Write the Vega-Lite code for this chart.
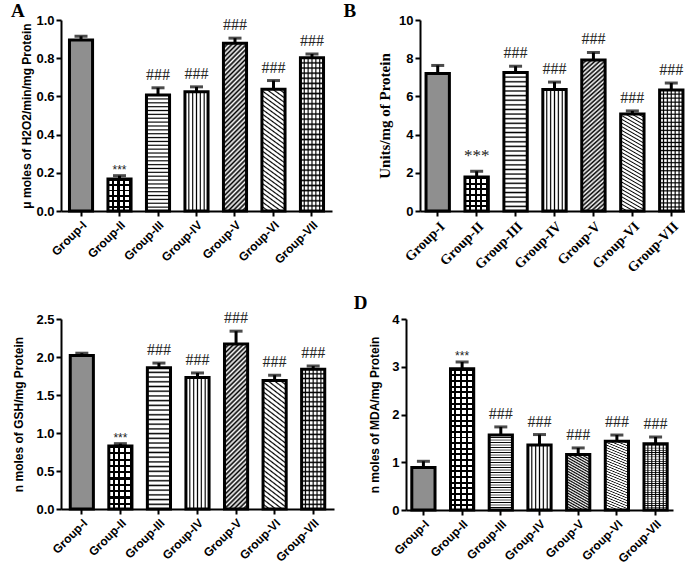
{
"$schema":"https://vega.github.io/schema/vega-lite/v6.json",
"background":"white",
"padding":{"left":0,"top":2,"right":0,"bottom":0},
"spacing":16,
"params":[
{"name":"hst","expr":"[{offset:0,color:'#000'},{offset:0.01,color:'#fff'},{offset:0.0233,color:'#fff'},{offset:0.0333,color:'#000'},{offset:0.0433,color:'#fff'},{offset:0.0567,color:'#fff'},{offset:0.0667,color:'#000'},{offset:0.0767,color:'#fff'},{offset:0.09,color:'#fff'},{offset:0.1,color:'#000'},{offset:0.11,color:'#fff'},{offset:0.1233,color:'#fff'},{offset:0.1333,color:'#000'},{offset:0.1433,color:'#fff'},{offset:0.1567,color:'#fff'},{offset:0.1667,color:'#000'},{offset:0.1767,color:'#fff'},{offset:0.19,color:'#fff'},{offset:0.2,color:'#000'},{offset:0.21,color:'#fff'},{offset:0.2233,color:'#fff'},{offset:0.2333,color:'#000'},{offset:0.2433,color:'#fff'},{offset:0.2567,color:'#fff'},{offset:0.2667,color:'#000'},{offset:0.2767,color:'#fff'},{offset:0.29,color:'#fff'},{offset:0.3,color:'#000'},{offset:0.31,color:'#fff'},{offset:0.3233,color:'#fff'},{offset:0.3333,color:'#000'},{offset:0.3433,color:'#fff'},{offset:0.3567,color:'#fff'},{offset:0.3667,color:'#000'},{offset:0.3767,color:'#fff'},{offset:0.39,color:'#fff'},{offset:0.4,color:'#000'},{offset:0.41,color:'#fff'},{offset:0.4233,color:'#fff'},{offset:0.4333,color:'#000'},{offset:0.4433,color:'#fff'},{offset:0.4567,color:'#fff'},{offset:0.4667,color:'#000'},{offset:0.4767,color:'#fff'},{offset:0.49,color:'#fff'},{offset:0.5,color:'#000'},{offset:0.51,color:'#fff'},{offset:0.5233,color:'#fff'},{offset:0.5333,color:'#000'},{offset:0.5433,color:'#fff'},{offset:0.5567,color:'#fff'},{offset:0.5667,color:'#000'},{offset:0.5767,color:'#fff'},{offset:0.59,color:'#fff'},{offset:0.6,color:'#000'},{offset:0.61,color:'#fff'},{offset:0.6233,color:'#fff'},{offset:0.6333,color:'#000'},{offset:0.6433,color:'#fff'},{offset:0.6567,color:'#fff'},{offset:0.6667,color:'#000'},{offset:0.6767,color:'#fff'},{offset:0.69,color:'#fff'},{offset:0.7,color:'#000'},{offset:0.71,color:'#fff'},{offset:0.7233,color:'#fff'},{offset:0.7333,color:'#000'},{offset:0.7433,color:'#fff'},{offset:0.7567,color:'#fff'},{offset:0.7667,color:'#000'},{offset:0.7767,color:'#fff'},{offset:0.79,color:'#fff'},{offset:0.8,color:'#000'},{offset:0.81,color:'#fff'},{offset:0.8233,color:'#fff'},{offset:0.8333,color:'#000'},{offset:0.8433,color:'#fff'},{offset:0.8567,color:'#fff'},{offset:0.8667,color:'#000'},{offset:0.8767,color:'#fff'},{offset:0.89,color:'#fff'},{offset:0.9,color:'#000'},{offset:0.91,color:'#fff'},{offset:0.9233,color:'#fff'},{offset:0.9333,color:'#000'},{offset:0.9433,color:'#fff'},{offset:0.9567,color:'#fff'},{offset:0.9667,color:'#000'},{offset:0.9767,color:'#fff'},{offset:0.99,color:'#fff'},{offset:1,color:'#000'}]"},
{"name":"tvl","expr":"[{offset:0,color:'#000'},{offset:0.05,color:'rgba(0,0,0,0)'},{offset:0.1167,color:'rgba(0,0,0,0)'},{offset:0.1667,color:'#000'},{offset:0.2167,color:'rgba(0,0,0,0)'},{offset:0.2833,color:'rgba(0,0,0,0)'},{offset:0.3333,color:'#000'},{offset:0.3833,color:'rgba(0,0,0,0)'},{offset:0.45,color:'rgba(0,0,0,0)'},{offset:0.5,color:'#000'},{offset:0.55,color:'rgba(0,0,0,0)'},{offset:0.6167,color:'rgba(0,0,0,0)'},{offset:0.6667,color:'#000'},{offset:0.7167,color:'rgba(0,0,0,0)'},{offset:0.7833,color:'rgba(0,0,0,0)'},{offset:0.8333,color:'#000'},{offset:0.8833,color:'rgba(0,0,0,0)'},{offset:0.95,color:'rgba(0,0,0,0)'},{offset:1,color:'#000'}]"},
{"name":"pat","expr":"{'Group-I':'#8f8f8f','Group-II':{gradient:'linear',x1:0,y1:0,x2:1,y2:0,stops:[{offset:0,color:'#fff'},{offset:0.1625,color:'#fff'},{offset:0.1625,color:'#000'},{offset:0.25,color:'#000'},{offset:0.25,color:'#fff'},{offset:0.4125,color:'#fff'},{offset:0.4125,color:'#000'},{offset:0.5,color:'#000'},{offset:0.5,color:'#fff'},{offset:0.6625,color:'#fff'},{offset:0.6625,color:'#000'},{offset:0.75,color:'#000'},{offset:0.75,color:'#fff'},{offset:0.9125,color:'#fff'},{offset:0.9125,color:'#000'},{offset:1,color:'#000'}]},'Group-III':{gradient:'linear',x1:0,y1:0,x2:0,y2:1,stops:hst},'Group-IV':{gradient:'linear',x1:0,y1:0,x2:1,y2:0,stops:[{offset:0,color:'#000'},{offset:0.05,color:'#fff'},{offset:0.1167,color:'#fff'},{offset:0.1667,color:'#000'},{offset:0.2167,color:'#fff'},{offset:0.2833,color:'#fff'},{offset:0.3333,color:'#000'},{offset:0.3833,color:'#fff'},{offset:0.45,color:'#fff'},{offset:0.5,color:'#000'},{offset:0.55,color:'#fff'},{offset:0.6167,color:'#fff'},{offset:0.6667,color:'#000'},{offset:0.7167,color:'#fff'},{offset:0.7833,color:'#fff'},{offset:0.8333,color:'#000'},{offset:0.8833,color:'#fff'},{offset:0.95,color:'#fff'},{offset:1,color:'#000'}]},'Group-V':{gradient:'linear',x1:0,y1:0,x2:0.155,y2:1.12,stops:[{offset:0,color:'#000'},{offset:0.0125,color:'#fff'},{offset:0.025,color:'#000'},{offset:0.0375,color:'#fff'},{offset:0.05,color:'#000'},{offset:0.0625,color:'#fff'},{offset:0.075,color:'#000'},{offset:0.0875,color:'#fff'},{offset:0.1,color:'#000'},{offset:0.1125,color:'#fff'},{offset:0.125,color:'#000'},{offset:0.1375,color:'#fff'},{offset:0.15,color:'#000'},{offset:0.1625,color:'#fff'},{offset:0.175,color:'#000'},{offset:0.1875,color:'#fff'},{offset:0.2,color:'#000'},{offset:0.2125,color:'#fff'},{offset:0.225,color:'#000'},{offset:0.2375,color:'#fff'},{offset:0.25,color:'#000'},{offset:0.2625,color:'#fff'},{offset:0.275,color:'#000'},{offset:0.2875,color:'#fff'},{offset:0.3,color:'#000'},{offset:0.3125,color:'#fff'},{offset:0.325,color:'#000'},{offset:0.3375,color:'#fff'},{offset:0.35,color:'#000'},{offset:0.3625,color:'#fff'},{offset:0.375,color:'#000'},{offset:0.3875,color:'#fff'},{offset:0.4,color:'#000'},{offset:0.4125,color:'#fff'},{offset:0.425,color:'#000'},{offset:0.4375,color:'#fff'},{offset:0.45,color:'#000'},{offset:0.4625,color:'#fff'},{offset:0.475,color:'#000'},{offset:0.4875,color:'#fff'},{offset:0.5,color:'#000'},{offset:0.5125,color:'#fff'},{offset:0.525,color:'#000'},{offset:0.5375,color:'#fff'},{offset:0.55,color:'#000'},{offset:0.5625,color:'#fff'},{offset:0.575,color:'#000'},{offset:0.5875,color:'#fff'},{offset:0.6,color:'#000'},{offset:0.6125,color:'#fff'},{offset:0.625,color:'#000'},{offset:0.6375,color:'#fff'},{offset:0.65,color:'#000'},{offset:0.6625,color:'#fff'},{offset:0.675,color:'#000'},{offset:0.6875,color:'#fff'},{offset:0.7,color:'#000'},{offset:0.7125,color:'#fff'},{offset:0.725,color:'#000'},{offset:0.7375,color:'#fff'},{offset:0.75,color:'#000'},{offset:0.7625,color:'#fff'},{offset:0.775,color:'#000'},{offset:0.7875,color:'#fff'},{offset:0.8,color:'#000'},{offset:0.8125,color:'#fff'},{offset:0.825,color:'#000'},{offset:0.8375,color:'#fff'},{offset:0.85,color:'#000'},{offset:0.8625,color:'#fff'},{offset:0.875,color:'#000'},{offset:0.8875,color:'#fff'},{offset:0.9,color:'#000'},{offset:0.9125,color:'#fff'},{offset:0.925,color:'#000'},{offset:0.9375,color:'#fff'},{offset:0.95,color:'#000'},{offset:0.9625,color:'#fff'},{offset:0.975,color:'#000'},{offset:0.9875,color:'#fff'},{offset:1,color:'#000'}]},'Group-VI':{gradient:'linear',x1:0,y1:1,x2:0.155,y2:-0.12,stops:hst},'Group-VII':{gradient:'linear',x1:0,y1:0,x2:0,y2:1,stops:hst}}"}
],
"config":{
"view":{"stroke":null},
"font":"Liberation Sans",
"axis":{"grid":false,"labelOverlap":false,"domainColor":"#000","domainWidth":2,"tickColor":"#000","tickWidth":2,"tickSize":5,"labelColor":"#000","titleColor":"#000","labelFont":"Liberation Sans","titleFont":"Liberation Sans","labelFontWeight":"bold","titleFontWeight":"bold"}
},
"vconcat":[
{"spacing":11,"hconcat":[
{"width":271,"height":191,
"title":{"text":"A","anchor":"start","frame":"bounds","font":"Liberation Serif","fontSize":19,"fontWeight":"bold","color":"#000","offset":-7,"dx":-10},
"data":{"values":[
{"g":"Group-I","v":0.895,"hi":0.915,"sig":""},
{"g":"Group-II","v":0.168,"hi":0.185,"sig":"***"},
{"g":"Group-III","v":0.607,"hi":0.645,"sig":"###"},
{"g":"Group-IV","v":0.625,"hi":0.65,"sig":"###"},
{"g":"Group-V","v":0.878,"hi":0.905,"sig":"###"},
{"g":"Group-VI","v":0.637,"hi":0.683,"sig":"###"},
{"g":"Group-VII","v":0.802,"hi":0.822,"sig":"###"}]},
"encoding":{"x":{"field":"g","type":"nominal","sort":null,"scale":{"domain":["Group-I","Group-II","Group-III","Group-IV","Group-V","Group-VI","Group-VII"],"paddingInner":0.4,"paddingOuter":0.22},"axis":{"title":null,"labelAngle":-45,"labelFontSize":12,"labelPadding":3}},
"y":{"field":"v","type":"quantitative","scale":{"domain":[0,1],"nice":false},"axis":{"title":"μ moles of H2O2/min/mg Protein","values":[0,0.2,0.4,0.6,0.8,1],"format":".1f","labelOverlap":false,"labelFontSize":13,"titleFontSize":12,"titlePadding":2}}},
"layer":[
{"mark":{"type":"bar","strokeWidth":0,"fill":{"expr":"pat[datum.g]"}}},
{"transform":[{"filter":"datum.g == 'Group-II'"}],"mark":{"type":"bar","strokeWidth":0,"fill":{"gradient":"linear","x1":0,"y1":0,"x2":0,"y2":1,"stops":[{"offset":0,"color":"#000"},{"offset":0.0583,"color":"#000"},{"offset":0.0583,"color":"rgba(0,0,0,0)"},{"offset":0.1667,"color":"rgba(0,0,0,0)"},{"offset":0.1667,"color":"#000"},{"offset":0.225,"color":"#000"},{"offset":0.225,"color":"rgba(0,0,0,0)"},{"offset":0.3333,"color":"rgba(0,0,0,0)"},{"offset":0.3333,"color":"#000"},{"offset":0.3917,"color":"#000"},{"offset":0.3917,"color":"rgba(0,0,0,0)"},{"offset":0.5,"color":"rgba(0,0,0,0)"},{"offset":0.5,"color":"#000"},{"offset":0.5583,"color":"#000"},{"offset":0.5583,"color":"rgba(0,0,0,0)"},{"offset":0.6667,"color":"rgba(0,0,0,0)"},{"offset":0.6667,"color":"#000"},{"offset":0.725,"color":"#000"},{"offset":0.725,"color":"rgba(0,0,0,0)"},{"offset":0.8333,"color":"rgba(0,0,0,0)"},{"offset":0.8333,"color":"#000"},{"offset":0.8917,"color":"#000"},{"offset":0.8917,"color":"rgba(0,0,0,0)"},{"offset":1,"color":"rgba(0,0,0,0)"}]}}},
{"transform":[{"filter":"datum.g == 'Group-VII'"}],"mark":{"type":"bar","strokeWidth":0,"fill":{"expr":"{gradient:'linear',x1:0,y1:0,x2:1,y2:0,stops:tvl}"}}},
{"mark":{"type":"bar","fillOpacity":0,"stroke":"#000","strokeWidth":3}},
{"mark":{"type":"rule","color":"#000","strokeWidth":3},"encoding":{"y2":{"field":"hi"}}},
{"mark":{"type":"tick","color":"#000","thickness":3,"size":13},"encoding":{"y":{"field":"hi","type":"quantitative","title":"μ moles of H2O2/min/mg Protein"}}},
{"transform":[{"filter":"datum.sig == '###'"}],"mark":{"type":"text","font":"Liberation Serif","fontSize":16,"baseline":"alphabetic","dy":-8,"color":"#222"},"encoding":{"y":{"field":"hi","type":"quantitative","title":"μ moles of H2O2/min/mg Protein"},"text":{"field":"sig"}}},
{"transform":[{"filter":"datum.sig == '***'"}],"mark":{"type":"text","font":"Liberation Sans","fontSize":12,"baseline":"alphabetic","dy":-2,"color":"#222"},"encoding":{"y":{"field":"hi","type":"quantitative","title":"μ moles of H2O2/min/mg Protein"},"text":{"field":"sig"}}}
]},
{"width":269,"height":191,
"title":{"text":"B","anchor":"start","frame":"bounds","font":"Liberation Serif","fontSize":19,"fontWeight":"bold","color":"#000","offset":-7,"dx":-34},
"data":{"values":[
{"g":"Group-I","v":7.2,"hi":7.62,"sig":""},
{"g":"Group-II","v":1.78,"hi":2.08,"sig":"***"},
{"g":"Group-III","v":7.25,"hi":7.58,"sig":"###"},
{"g":"Group-IV","v":6.36,"hi":6.75,"sig":"###"},
{"g":"Group-V","v":7.9,"hi":8.3,"sig":"###"},
{"g":"Group-VI","v":5.08,"hi":5.24,"sig":"###"},
{"g":"Group-VII","v":6.33,"hi":6.7,"sig":"###"}]},
"encoding":{"x":{"field":"g","type":"nominal","sort":null,"scale":{"domain":["Group-I","Group-II","Group-III","Group-IV","Group-V","Group-VI","Group-VII"],"paddingInner":0.4,"paddingOuter":0.155},"axis":{"title":null,"labelAngle":-45,"labelFont":"Liberation Serif","labelFontSize":14,"labelPadding":3}},
"y":{"field":"v","type":"quantitative","scale":{"domain":[0,10],"nice":false},"axis":{"title":"Units/mg of Protein","values":[0,2,4,6,8,10],"format":"d","labelOverlap":false,"labelFontSize":13,"titleFont":"Liberation Serif","titleFontSize":15,"titlePadding":6}}},
"layer":[
{"mark":{"type":"bar","strokeWidth":0,"fill":{"expr":"pat[datum.g]"}}},
{"transform":[{"filter":"datum.g == 'Group-II'"}],"mark":{"type":"bar","strokeWidth":0,"fill":{"gradient":"linear","x1":0,"y1":0,"x2":0,"y2":1,"stops":[{"offset":0,"color":"#000"},{"offset":0.0583,"color":"#000"},{"offset":0.0583,"color":"rgba(0,0,0,0)"},{"offset":0.1667,"color":"rgba(0,0,0,0)"},{"offset":0.1667,"color":"#000"},{"offset":0.225,"color":"#000"},{"offset":0.225,"color":"rgba(0,0,0,0)"},{"offset":0.3333,"color":"rgba(0,0,0,0)"},{"offset":0.3333,"color":"#000"},{"offset":0.3917,"color":"#000"},{"offset":0.3917,"color":"rgba(0,0,0,0)"},{"offset":0.5,"color":"rgba(0,0,0,0)"},{"offset":0.5,"color":"#000"},{"offset":0.5583,"color":"#000"},{"offset":0.5583,"color":"rgba(0,0,0,0)"},{"offset":0.6667,"color":"rgba(0,0,0,0)"},{"offset":0.6667,"color":"#000"},{"offset":0.725,"color":"#000"},{"offset":0.725,"color":"rgba(0,0,0,0)"},{"offset":0.8333,"color":"rgba(0,0,0,0)"},{"offset":0.8333,"color":"#000"},{"offset":0.8917,"color":"#000"},{"offset":0.8917,"color":"rgba(0,0,0,0)"},{"offset":1,"color":"rgba(0,0,0,0)"}]}}},
{"transform":[{"filter":"datum.g == 'Group-VII'"}],"mark":{"type":"bar","strokeWidth":0,"fill":{"expr":"{gradient:'linear',x1:0,y1:0,x2:1,y2:0,stops:tvl}"}}},
{"mark":{"type":"bar","fillOpacity":0,"stroke":"#000","strokeWidth":3}},
{"mark":{"type":"rule","color":"#000","strokeWidth":3},"encoding":{"y2":{"field":"hi"}}},
{"mark":{"type":"tick","color":"#000","thickness":3,"size":13},"encoding":{"y":{"field":"hi","type":"quantitative","title":"Units/mg of Protein"}}},
{"transform":[{"filter":"datum.sig == '###'"}],"mark":{"type":"text","font":"Liberation Serif","fontSize":16,"baseline":"alphabetic","dy":-8,"color":"#222"},"encoding":{"y":{"field":"hi","type":"quantitative","title":"Units/mg of Protein"},"text":{"field":"sig"}}},
{"transform":[{"filter":"datum.sig == '***'"}],"mark":{"type":"text","font":"Liberation Serif","fontSize":17,"baseline":"alphabetic","dy":-10,"color":"#222"},"encoding":{"y":{"field":"hi","type":"quantitative","title":"Units/mg of Protein"},"text":{"field":"sig"}}}
]}
]},
{"spacing":19,"hconcat":[
{"width":273,"height":190,
"title":{"text":" ","anchor":"start","frame":"bounds","font":"Liberation Serif","fontSize":19,"fontWeight":"bold","color":"#000","offset":0,"dx":-12},
"data":{"values":[
{"g":"Group-I","v":2.02,"hi":2.05,"sig":""},
{"g":"Group-II","v":0.83,"hi":0.86,"sig":"***"},
{"g":"Group-III","v":1.86,"hi":1.92,"sig":"###"},
{"g":"Group-IV","v":1.73,"hi":1.79,"sig":"###"},
{"g":"Group-V","v":2.17,"hi":2.34,"sig":"###"},
{"g":"Group-VI","v":1.69,"hi":1.76,"sig":"###"},
{"g":"Group-VII","v":1.84,"hi":1.88,"sig":"###"}]},
"encoding":{"x":{"field":"g","type":"nominal","sort":null,"scale":{"domain":["Group-I","Group-II","Group-III","Group-IV","Group-V","Group-VI","Group-VII"],"paddingInner":0.4,"paddingOuter":0.24},"axis":{"title":null,"labelAngle":-45,"labelFontSize":12,"labelPadding":3}},
"y":{"field":"v","type":"quantitative","scale":{"domain":[0,2.5],"nice":false},"axis":{"title":"n moles of GSH/mg Protein","values":[0,0.5,1,1.5,2,2.5],"format":".1f","labelOverlap":false,"labelFontSize":13,"titleFontSize":12,"titlePadding":10}}},
"layer":[
{"mark":{"type":"bar","strokeWidth":0,"fill":{"expr":"pat[datum.g]"}}},
{"transform":[{"filter":"datum.g == 'Group-II'"}],"mark":{"type":"bar","strokeWidth":0,"fill":{"gradient":"linear","x1":0,"y1":0,"x2":0,"y2":1,"stops":[{"offset":0,"color":"#000"},{"offset":0.035,"color":"#000"},{"offset":0.035,"color":"rgba(0,0,0,0)"},{"offset":0.1,"color":"rgba(0,0,0,0)"},{"offset":0.1,"color":"#000"},{"offset":0.135,"color":"#000"},{"offset":0.135,"color":"rgba(0,0,0,0)"},{"offset":0.2,"color":"rgba(0,0,0,0)"},{"offset":0.2,"color":"#000"},{"offset":0.235,"color":"#000"},{"offset":0.235,"color":"rgba(0,0,0,0)"},{"offset":0.3,"color":"rgba(0,0,0,0)"},{"offset":0.3,"color":"#000"},{"offset":0.335,"color":"#000"},{"offset":0.335,"color":"rgba(0,0,0,0)"},{"offset":0.4,"color":"rgba(0,0,0,0)"},{"offset":0.4,"color":"#000"},{"offset":0.435,"color":"#000"},{"offset":0.435,"color":"rgba(0,0,0,0)"},{"offset":0.5,"color":"rgba(0,0,0,0)"},{"offset":0.5,"color":"#000"},{"offset":0.535,"color":"#000"},{"offset":0.535,"color":"rgba(0,0,0,0)"},{"offset":0.6,"color":"rgba(0,0,0,0)"},{"offset":0.6,"color":"#000"},{"offset":0.635,"color":"#000"},{"offset":0.635,"color":"rgba(0,0,0,0)"},{"offset":0.7,"color":"rgba(0,0,0,0)"},{"offset":0.7,"color":"#000"},{"offset":0.735,"color":"#000"},{"offset":0.735,"color":"rgba(0,0,0,0)"},{"offset":0.8,"color":"rgba(0,0,0,0)"},{"offset":0.8,"color":"#000"},{"offset":0.835,"color":"#000"},{"offset":0.835,"color":"rgba(0,0,0,0)"},{"offset":0.9,"color":"rgba(0,0,0,0)"},{"offset":0.9,"color":"#000"},{"offset":0.935,"color":"#000"},{"offset":0.935,"color":"rgba(0,0,0,0)"},{"offset":1,"color":"rgba(0,0,0,0)"}]}}},
{"transform":[{"filter":"datum.g == 'Group-VII'"}],"mark":{"type":"bar","strokeWidth":0,"fill":{"expr":"{gradient:'linear',x1:0,y1:0,x2:1,y2:0,stops:tvl}"}}},
{"mark":{"type":"bar","fillOpacity":0,"stroke":"#000","strokeWidth":3}},
{"mark":{"type":"rule","color":"#000","strokeWidth":3},"encoding":{"y2":{"field":"hi"}}},
{"mark":{"type":"tick","color":"#000","thickness":3,"size":13},"encoding":{"y":{"field":"hi","type":"quantitative","title":"n moles of GSH/mg Protein"}}},
{"transform":[{"filter":"datum.sig == '###'"}],"mark":{"type":"text","font":"Liberation Serif","fontSize":16,"baseline":"alphabetic","dy":-8,"color":"#222"},"encoding":{"y":{"field":"hi","type":"quantitative","title":"n moles of GSH/mg Protein"},"text":{"field":"sig"}}},
{"transform":[{"filter":"datum.sig == '***'"}],"mark":{"type":"text","font":"Liberation Sans","fontSize":12,"baseline":"alphabetic","dy":-2,"color":"#222"},"encoding":{"y":{"field":"hi","type":"quantitative","title":"n moles of GSH/mg Protein"},"text":{"field":"sig"}}}
]},
{"width":267,"height":191,
"title":{"text":"D","anchor":"start","frame":"bounds","font":"Liberation Serif","fontSize":19,"fontWeight":"bold","color":"#000","offset":0,"dx":-15},
"data":{"values":[
{"g":"Group-I","v":0.89,"hi":1.02,"sig":""},
{"g":"Group-II","v":2.96,"hi":3.1,"sig":"***"},
{"g":"Group-III","v":1.57,"hi":1.74,"sig":"###"},
{"g":"Group-IV","v":1.36,"hi":1.58,"sig":"###"},
{"g":"Group-V","v":1.16,"hi":1.3,"sig":"###"},
{"g":"Group-VI","v":1.44,"hi":1.57,"sig":"###"},
{"g":"Group-VII","v":1.39,"hi":1.53,"sig":"###"}]},
"encoding":{"x":{"field":"g","type":"nominal","sort":null,"scale":{"domain":["Group-I","Group-II","Group-III","Group-IV","Group-V","Group-VI","Group-VII"],"paddingInner":0.4,"paddingOuter":0.15},"axis":{"title":null,"labelAngle":-45,"labelFontSize":12,"labelPadding":3}},
"y":{"field":"v","type":"quantitative","scale":{"domain":[0,4],"nice":false},"axis":{"title":"n moles of MDA/mg Protein","values":[0,1,2,3,4],"format":"d","labelOverlap":false,"labelFontSize":13,"titleFontSize":12,"titlePadding":10}}},
"layer":[
{"mark":{"type":"bar","strokeWidth":0,"fill":{"expr":"pat[datum.g]"}}},
{"transform":[{"filter":"datum.g == 'Group-II'"}],"mark":{"type":"bar","strokeWidth":0,"fill":{"gradient":"linear","x1":0,"y1":0,"x2":0,"y2":1,"stops":[{"offset":0,"color":"#000"},{"offset":0.014,"color":"#000"},{"offset":0.014,"color":"rgba(0,0,0,0)"},{"offset":0.04,"color":"rgba(0,0,0,0)"},{"offset":0.04,"color":"#000"},{"offset":0.054,"color":"#000"},{"offset":0.054,"color":"rgba(0,0,0,0)"},{"offset":0.08,"color":"rgba(0,0,0,0)"},{"offset":0.08,"color":"#000"},{"offset":0.094,"color":"#000"},{"offset":0.094,"color":"rgba(0,0,0,0)"},{"offset":0.12,"color":"rgba(0,0,0,0)"},{"offset":0.12,"color":"#000"},{"offset":0.134,"color":"#000"},{"offset":0.134,"color":"rgba(0,0,0,0)"},{"offset":0.16,"color":"rgba(0,0,0,0)"},{"offset":0.16,"color":"#000"},{"offset":0.174,"color":"#000"},{"offset":0.174,"color":"rgba(0,0,0,0)"},{"offset":0.2,"color":"rgba(0,0,0,0)"},{"offset":0.2,"color":"#000"},{"offset":0.214,"color":"#000"},{"offset":0.214,"color":"rgba(0,0,0,0)"},{"offset":0.24,"color":"rgba(0,0,0,0)"},{"offset":0.24,"color":"#000"},{"offset":0.254,"color":"#000"},{"offset":0.254,"color":"rgba(0,0,0,0)"},{"offset":0.28,"color":"rgba(0,0,0,0)"},{"offset":0.28,"color":"#000"},{"offset":0.294,"color":"#000"},{"offset":0.294,"color":"rgba(0,0,0,0)"},{"offset":0.32,"color":"rgba(0,0,0,0)"},{"offset":0.32,"color":"#000"},{"offset":0.334,"color":"#000"},{"offset":0.334,"color":"rgba(0,0,0,0)"},{"offset":0.36,"color":"rgba(0,0,0,0)"},{"offset":0.36,"color":"#000"},{"offset":0.374,"color":"#000"},{"offset":0.374,"color":"rgba(0,0,0,0)"},{"offset":0.4,"color":"rgba(0,0,0,0)"},{"offset":0.4,"color":"#000"},{"offset":0.414,"color":"#000"},{"offset":0.414,"color":"rgba(0,0,0,0)"},{"offset":0.44,"color":"rgba(0,0,0,0)"},{"offset":0.44,"color":"#000"},{"offset":0.454,"color":"#000"},{"offset":0.454,"color":"rgba(0,0,0,0)"},{"offset":0.48,"color":"rgba(0,0,0,0)"},{"offset":0.48,"color":"#000"},{"offset":0.494,"color":"#000"},{"offset":0.494,"color":"rgba(0,0,0,0)"},{"offset":0.52,"color":"rgba(0,0,0,0)"},{"offset":0.52,"color":"#000"},{"offset":0.534,"color":"#000"},{"offset":0.534,"color":"rgba(0,0,0,0)"},{"offset":0.56,"color":"rgba(0,0,0,0)"},{"offset":0.56,"color":"#000"},{"offset":0.574,"color":"#000"},{"offset":0.574,"color":"rgba(0,0,0,0)"},{"offset":0.6,"color":"rgba(0,0,0,0)"},{"offset":0.6,"color":"#000"},{"offset":0.614,"color":"#000"},{"offset":0.614,"color":"rgba(0,0,0,0)"},{"offset":0.64,"color":"rgba(0,0,0,0)"},{"offset":0.64,"color":"#000"},{"offset":0.654,"color":"#000"},{"offset":0.654,"color":"rgba(0,0,0,0)"},{"offset":0.68,"color":"rgba(0,0,0,0)"},{"offset":0.68,"color":"#000"},{"offset":0.694,"color":"#000"},{"offset":0.694,"color":"rgba(0,0,0,0)"},{"offset":0.72,"color":"rgba(0,0,0,0)"},{"offset":0.72,"color":"#000"},{"offset":0.734,"color":"#000"},{"offset":0.734,"color":"rgba(0,0,0,0)"},{"offset":0.76,"color":"rgba(0,0,0,0)"},{"offset":0.76,"color":"#000"},{"offset":0.774,"color":"#000"},{"offset":0.774,"color":"rgba(0,0,0,0)"},{"offset":0.8,"color":"rgba(0,0,0,0)"},{"offset":0.8,"color":"#000"},{"offset":0.814,"color":"#000"},{"offset":0.814,"color":"rgba(0,0,0,0)"},{"offset":0.84,"color":"rgba(0,0,0,0)"},{"offset":0.84,"color":"#000"},{"offset":0.854,"color":"#000"},{"offset":0.854,"color":"rgba(0,0,0,0)"},{"offset":0.88,"color":"rgba(0,0,0,0)"},{"offset":0.88,"color":"#000"},{"offset":0.894,"color":"#000"},{"offset":0.894,"color":"rgba(0,0,0,0)"},{"offset":0.92,"color":"rgba(0,0,0,0)"},{"offset":0.92,"color":"#000"},{"offset":0.934,"color":"#000"},{"offset":0.934,"color":"rgba(0,0,0,0)"},{"offset":0.96,"color":"rgba(0,0,0,0)"},{"offset":0.96,"color":"#000"},{"offset":0.974,"color":"#000"},{"offset":0.974,"color":"rgba(0,0,0,0)"},{"offset":1,"color":"rgba(0,0,0,0)"}]}}},
{"transform":[{"filter":"datum.g == 'Group-VII'"}],"mark":{"type":"bar","strokeWidth":0,"fill":{"expr":"{gradient:'linear',x1:0,y1:0,x2:1,y2:0,stops:tvl}"}}},
{"mark":{"type":"bar","fillOpacity":0,"stroke":"#000","strokeWidth":3}},
{"mark":{"type":"rule","color":"#000","strokeWidth":3},"encoding":{"y2":{"field":"hi"}}},
{"mark":{"type":"tick","color":"#000","thickness":3,"size":13},"encoding":{"y":{"field":"hi","type":"quantitative","title":"n moles of MDA/mg Protein"}}},
{"transform":[{"filter":"datum.sig == '###'"}],"mark":{"type":"text","font":"Liberation Serif","fontSize":16,"baseline":"alphabetic","dy":-8,"color":"#222"},"encoding":{"y":{"field":"hi","type":"quantitative","title":"n moles of MDA/mg Protein"},"text":{"field":"sig"}}},
{"transform":[{"filter":"datum.sig == '***'"}],"mark":{"type":"text","font":"Liberation Sans","fontSize":12,"baseline":"alphabetic","dy":-2,"color":"#222"},"encoding":{"y":{"field":"hi","type":"quantitative","title":"n moles of MDA/mg Protein"},"text":{"field":"sig"}}}
]}
]}
]
}
